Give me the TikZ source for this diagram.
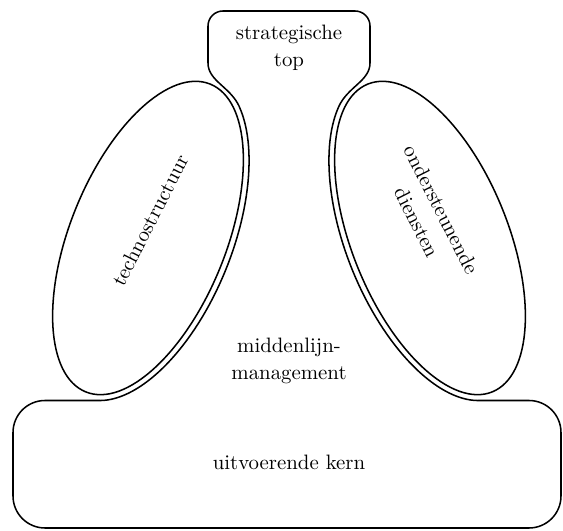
\documentclass[tikz,border=0pt]{standalone}
\usetikzlibrary{shapes}

\begin{document}
\begin{tikzpicture}[x = 0.0172cm, y = 0.0172cm]
\tikzset{
   outline/.style = {draw, line width = 0.75pt, line join = round},
   lobe/.style = {outline},
   part_text/.style = {align = center, inner sep = 0pt, font = \fontsize{10.2}{13.5}\selectfont}
}
  \useasboundingbox (0,0) rectangle (563,531);

  % staff lobes
  \coordinate (techno_c) at (148,293);
  \coordinate (diensten_c) at (430,293);
  \draw[lobe, rotate around = {68:(techno_c)}] (techno_c) ellipse [x radius = 166, y radius = 78];
  \draw[lobe, rotate around = {-68:(diensten_c)}] (diensten_c) ellipse [x radius = 166, y radius = 78];

  % strategic top, middle line and core in one outline
  \draw[outline] (99.8,130.5) -- (45,130.5) arc [start angle = 90, end angle = 180, radius = 32]
     -- (13,35) arc [start angle = 180, end angle = 270, radius = 32]
     -- (529,3) arc [start angle = 270, end angle = 360, radius = 32]
     -- (561,98.5) arc [start angle = 0, end angle = 90, radius = 32]
     -- (478.2,130.5)
     -- plot [domain = -168.8:-25, samples = 60, variable = \t]
        ({430 - 172*cos(\t)*cos(68) + 84*sin(\t)*sin(68)}, {293 + 172*cos(\t)*sin(68) + 84*sin(\t)*cos(68)})
     .. controls (347.6,444.2) and (370,450) .. (370,468)
     -- (370,505) arc [start angle = 0, end angle = 90, radius = 15]
     -- (223,520) arc [start angle = 90, end angle = 180, radius = 15]
     -- (208,468)
     .. controls (208,450) and (230.4,444.2) .. (239.4,424.2)
     -- plot [domain = -25:-168.8, samples = 60, variable = \t]
        ({148 + 172*cos(\t)*cos(68) - 84*sin(\t)*sin(68)}, {293 + 172*cos(\t)*sin(68) + 84*sin(\t)*cos(68)})
     -- cycle;

  \node[part_text] (top) at (289,483) {strategische\\top};
  \node[part_text] (middenlijn) at (289,170) {middenlijn-\\management};
  \node[part_text] (kern) at (289,69) {uitvoerende kern};
  \node[part_text, rotate = 63] (techno) at (150,311) {technostructuur};
  \node[part_text, rotate = -63] (diensten) at (429,315) {ondersteunende\\diensten};
\end{tikzpicture}
\end{document}
